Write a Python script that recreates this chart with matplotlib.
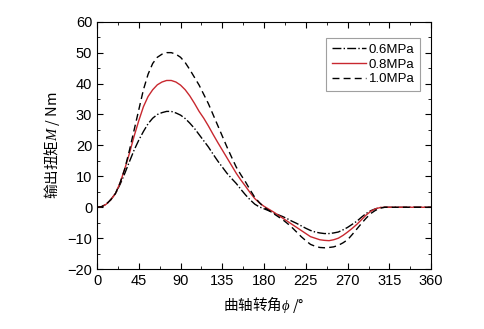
import matplotlib
matplotlib.use("Agg")
import matplotlib.pyplot as plt
from matplotlib.ticker import MultipleLocator

plt.rcParams['font.family'] = ['Liberation Sans', 'Noto Sans CJK SC', 'DejaVu Sans']
plt.rcParams['mathtext.fontset'] = 'custom'
plt.rcParams['mathtext.it'] = 'Liberation Serif:italic'

# crank angle, every 5 deg from 0 to 360
angle = list(range(0, 365, 5))

torque_06 = [0, 0.2, 1.0, 2.5, 4.5, 7.5, 11, 14.8, 18.5, 21.7, 24.5, 27, 28.8, 30, 30.6, 31, 31, 30.5,
             29.8, 28.7, 27.2, 25.5, 23.5, 21.5, 19.5, 17.2, 15, 13, 11, 9.3, 7.7, 5.8, 4, 2.4, 1, 0.1,
             -0.5, -1.1, -1.8, -2.4, -3, -3.7, -4.5, -5.2, -6, -6.8, -7.5, -8, -8.3, -8.5, -8.5, -8.3,
             -8, -7.3, -6.5, -5.5, -4.5, -3.2, -2, -1.1, -0.5, -0.1, 0,
             0, 0, 0, 0, 0, 0, 0, 0, 0, 0]
torque_08 = [0, 0.2, 1.0, 2.5, 4.5, 8, 12.5, 17.5, 23, 28, 32.5, 35.8, 38, 39.6, 40.5, 41, 41, 40.5,
             39.5, 38, 36, 33.6, 31, 28.8, 26.3, 23.6, 21, 18.5, 16, 13.5, 11, 8.8, 6.8, 4.7, 2.8, 1.4,
             0.3, -0.6, -1.5, -2.5, -3.5, -4.5, -5.5, -6.5, -7.5, -8.5, -9.5, -10, -10.5, -10.7, -10.8, -10.5,
             -10, -9.1, -8, -6.8, -5.5, -4, -2.5, -1.3, -0.5, -0.1, 0,
             0, 0, 0, 0, 0, 0, 0, 0, 0, 0]
torque_10 = [0, 0.2, 1.0, 2.5, 4.5, 8, 12.5, 18.5, 25, 31.5, 38, 43, 46.5, 48.5, 49.5, 50, 50, 49.5,
             48.5, 46.8, 44.5, 42, 39.5, 36.5, 33.5, 30, 26.5, 23, 19.5, 16.2, 13, 10.5, 8.2, 5.6, 3.2, 1.5,
             0, -1, -2, -3, -4, -5.2, -6.5, -8, -9.5, -10.8, -12, -12.6, -13, -13.1, -13, -12.8,
             -12.3, -11.5, -10.5, -8.8, -7, -5.2, -3.5, -2, -1, -0.3, 0,
             0, 0, 0, 0, 0, 0, 0, 0, 0, 0]

labels = ['0.6MPa', '0.8MPa', '1.0MPa']

fig = plt.figure(figsize=(4.85, 3.29), dpi=100)
ax = fig.add_axes([0.2, 0.182, 0.689, 0.752])

ax.plot(angle, torque_06, color='black', linestyle='-.', linewidth=1.0, label=labels[0])
ax.plot(angle, torque_08, color='#c8282f', linestyle='-', linewidth=1.0, label=labels[1])
ax.plot(angle, torque_10, color='black', linestyle=(0, (5, 3)), linewidth=1.0, label=labels[2])

ax.set_xlim(0, 360)
ax.set_ylim(-20, 60)
ax.xaxis.set_major_locator(MultipleLocator(45))
ax.xaxis.set_minor_locator(MultipleLocator(22.5))
ax.yaxis.set_major_locator(MultipleLocator(10))
ax.yaxis.set_minor_locator(MultipleLocator(5))
ax.tick_params(which='both', direction='in', top=True, right=True, labelsize=10.5)
ax.tick_params(which='major', length=4)
ax.tick_params(which='minor', length=2)

ax.set_xlabel('曲轴转角$\\phi$ /°', fontsize=10.5, family=['Noto Sans CJK SC', 'DejaVu Sans'])
ax.set_ylabel('输出扭矩$M$ / Nm', fontsize=10.5, family=['Noto Sans CJK SC', 'DejaVu Sans'])

leg = ax.legend(loc='upper right', bbox_to_anchor=(0.985, 0.96), fontsize=9.5, fancybox=False,
                handlelength=2.6, handletextpad=0.2, labelspacing=0.2, borderpad=0.4)
leg.get_frame().set_edgecolor('#888888')
leg.get_frame().set_linewidth(0.8)

fig.savefig('out.png', dpi=100)
